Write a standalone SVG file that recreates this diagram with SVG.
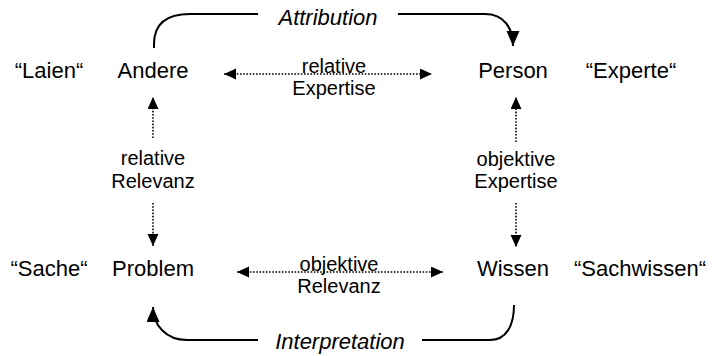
<svg xmlns="http://www.w3.org/2000/svg" width="713" height="356" viewBox="0 0 713 356">
<style>
text{font-family:"Liberation Sans",Arial,sans-serif;fill:#000}
.main{font-size:22px}
.q{font-size:22px}
.lbl{font-size:20px}
.it{font-size:22px;font-style:italic}
.solid{fill:none;stroke:#000;stroke-width:2}
.dot{fill:none;stroke:#000;stroke-width:1.6;stroke-dasharray:1.6 1.6}
</style>
<defs>
<marker id="big" markerUnits="userSpaceOnUse" markerWidth="16" markerHeight="14" refX="15" refY="6.5" orient="auto">
<path d="M0,0 L15,6.5 L0,13 z" fill="#000"/>
</marker>
<marker id="sm" markerUnits="userSpaceOnUse" markerWidth="13" markerHeight="12" refX="12" refY="5.5" orient="auto-start-reverse">
<path d="M0,0 L12,5.5 L0,11 z" fill="#000"/>
</marker>
</defs>
<g id="connectors">
<path class="solid" d="M154,48 V44 C154,24 166,14 190,14 H258"/>
<path class="solid" d="M398,14 H485 C504,14 513,28 513,46" marker-end="url(#big)"/>
<path class="solid" d="M258,340 H187 C166,340 153,325 153,307" marker-end="url(#big)"/>
<path class="solid" d="M422,340 H490 C506,340 514,326 514,305"/>
<path class="dot" d="M224,74 H432" marker-start="url(#sm)" marker-end="url(#sm)"/>
<path class="dot" d="M237,272 H443" marker-start="url(#sm)" marker-end="url(#sm)"/>
<path class="dot" d="M153,138 V97" marker-end="url(#sm)"/>
<path class="dot" d="M153,203 V246" marker-end="url(#sm)"/>
<path class="dot" d="M516,142 V97" marker-end="url(#sm)"/>
<path class="dot" d="M516,203 V247" marker-end="url(#sm)"/>
</g>
<g id="laien"><text class="q" x="49" y="78" text-anchor="middle">“Laien“</text></g>
<g id="andere"><text class="main" x="153" y="78" text-anchor="middle">Andere</text></g>
<g id="person"><text class="main" x="513" y="78" text-anchor="middle">Person</text></g>
<g id="experte"><text class="q" x="631" y="78" text-anchor="middle">“Experte“</text></g>
<g id="sache"><text class="q" x="49" y="276" text-anchor="middle">“Sache“</text></g>
<g id="problem"><text class="main" x="153" y="276" text-anchor="middle">Problem</text></g>
<g id="wissen"><text class="main" x="513" y="276" text-anchor="middle">Wissen</text></g>
<g id="sachwissen"><text class="q" x="640" y="276" text-anchor="middle">“Sachwissen“</text></g>
<g id="attribution"><text class="it" x="328" y="25" text-anchor="middle">Attribution</text></g>
<g id="interpretation"><text class="it" x="340" y="349" text-anchor="middle">Interpretation</text></g>
<g id="relexp"><text class="lbl" x="334" y="73" text-anchor="middle">relative</text><text class="lbl" x="334" y="95" text-anchor="middle">Expertise</text></g>
<g id="objrel"><text class="lbl" x="339" y="271" text-anchor="middle">objektive</text><text class="lbl" x="339" y="293" text-anchor="middle">Relevanz</text></g>
<g id="relrel"><text class="lbl" x="153" y="165" text-anchor="middle">relative</text><text class="lbl" x="153" y="188" text-anchor="middle">Relevanz</text></g>
<g id="objexp"><text class="lbl" x="516" y="166" text-anchor="middle">objektive</text><text class="lbl" x="516" y="188" text-anchor="middle">Expertise</text></g>
</svg>
